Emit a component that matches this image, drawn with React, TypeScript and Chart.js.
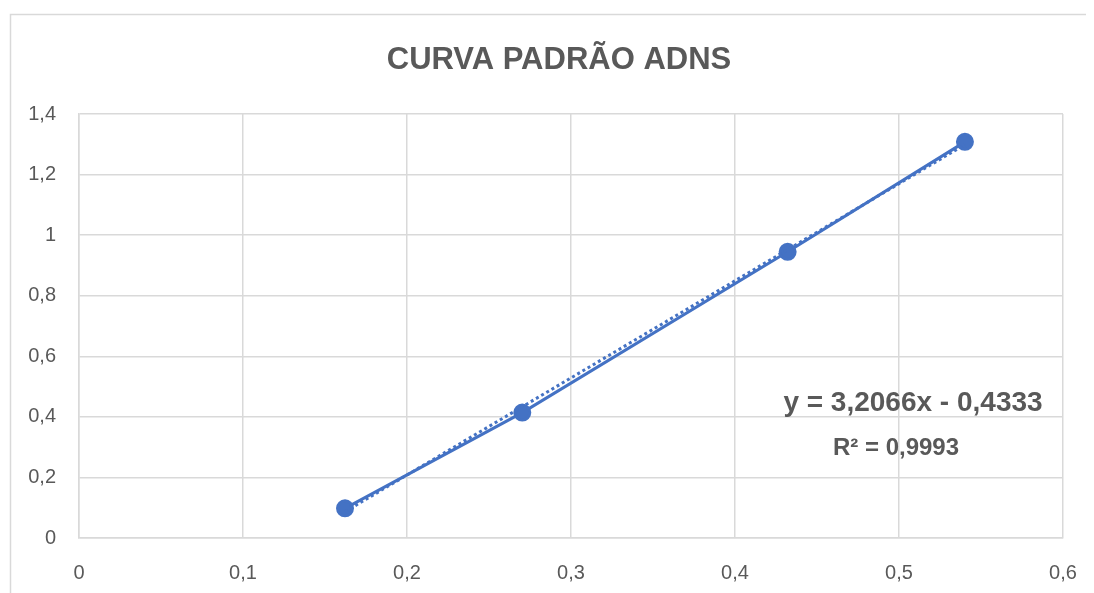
import React, { useEffect, useRef } from "react";
import { Chart, registerables } from "chart.js";

Chart.register(...registerables);

const titleText = "CURVA PADRÃO ADNS";
const xValues = [0.1622, 0.2703, 0.4321, 0.5402];
const yValues = [0.098, 0.414, 0.945, 1.308];
const trendX = [0.1622, 0.5402];
const trendY = [0.0868, 1.2989];
const equationText = "y = 3,2066x - 0,4333";
const r2Text = "R² = 0,9993";
const xTicks = [0, 0.1, 0.2, 0.3, 0.4, 0.5, 0.6];
const yTicks = [0, 0.2, 0.4, 0.6, 0.8, 1, 1.2, 1.4];

const BLUE = "#4472C4";
const TEXT = "#595959";
const GRID = "#d9d9d9";
const FONT = "'Liberation Sans', Arial, sans-serif";

const fmt = (v: number) => String(Math.round(v * 10) / 10).replace(".", ",");

const decorPlugin = {
  id: "decor",
  beforeDraw(chart: any) {
    const ctx = chart.ctx;
    ctx.save();
    ctx.strokeStyle = GRID;
    ctx.lineWidth = 1.5;
    ctx.beginPath();
    ctx.moveTo(2.5, chart.height + 5);
    ctx.lineTo(2.5, 6.5);
    ctx.lineTo(chart.width + 5, 6.5);
    ctx.stroke();
    ctx.fillStyle = TEXT;
    ctx.textAlign = "center";
    ctx.textBaseline = "middle";
    ctx.font = `bold 31px ${FONT}`;
    ctx.fillText(titleText, 551, 52);
    ctx.restore();
  },
  afterDraw(chart: any) {
    const ctx = chart.ctx;
    ctx.save();
    ctx.fillStyle = TEXT;
    ctx.textAlign = "center";
    ctx.textBaseline = "middle";
    ctx.font = `bold 28px ${FONT}`;
    ctx.fillText(equationText, 905, 395);
    ctx.font = `bold 24px ${FONT}`;
    ctx.fillText(r2Text, 888, 440);
    ctx.restore();
  },
};

export default function App() {
  const ref = useRef<HTMLCanvasElement>(null);
  useEffect(() => {
    if (!ref.current) return;
    const chart = new Chart(ref.current, {
      type: "scatter",
      data: {
        datasets: [
          {
            label: "Linear",
            data: trendX.map((x, i) => ({ x, y: trendY[i] })),
            showLine: true,
            borderColor: BLUE,
            borderWidth: 3,
            borderDash: [3, 3],
            pointRadius: 0,
            fill: false,
          },
          {
            label: "ADNS",
            data: xValues.map((x, i) => ({ x, y: yValues[i] })),
            showLine: true,
            borderColor: BLUE,
            backgroundColor: BLUE,
            borderWidth: 3,
            pointRadius: 7.5,
            pointBackgroundColor: BLUE,
            pointBorderColor: BLUE,
            fill: false,
          },
        ],
      },
      options: {
        animation: false,
        responsive: false,
        maintainAspectRatio: false,
        layout: { padding: { left: 0, right: 31, top: 106, bottom: 0 } },
        plugins: { legend: { display: false }, title: { display: false }, tooltip: { enabled: false } },
        scales: {
          x: {
            type: "linear",
            min: 0,
            max: 0.6,
            afterBuildTicks: (s: any) => { s.ticks = xTicks.map((v) => ({ value: v })); },
            afterFit: (s: any) => { s.height = 55; s.paddingLeft = 0; s.paddingRight = 0; },
            grid: { color: GRID, lineWidth: 1.5, drawTicks: false },
            border: { color: GRID, width: 1.5 },
            ticks: { color: TEXT, font: { family: FONT, size: 20 }, padding: 23, callback: (v: any) => fmt(Number(v)) },
          },
          y: {
            type: "linear",
            min: 0,
            max: 1.4,
            afterBuildTicks: (s: any) => { s.ticks = yTicks.map((v) => ({ value: v })); },
            afterFit: (s: any) => { s.width = 71; s.paddingTop = 0; s.paddingBottom = 0; },
            grid: { color: GRID, lineWidth: 1.5, drawTicks: false },
            border: { color: GRID, width: 1.5 },
            ticks: { color: TEXT, font: { family: FONT, size: 20 }, padding: 23, callback: (v: any) => fmt(Number(v)) },
          },
        },
      },
      plugins: [decorPlugin],
    } as any);
    return () => chart.destroy();
  }, []);
  return <canvas ref={ref} width={1086} height={585} style={{ display: "block" }} />;
}
